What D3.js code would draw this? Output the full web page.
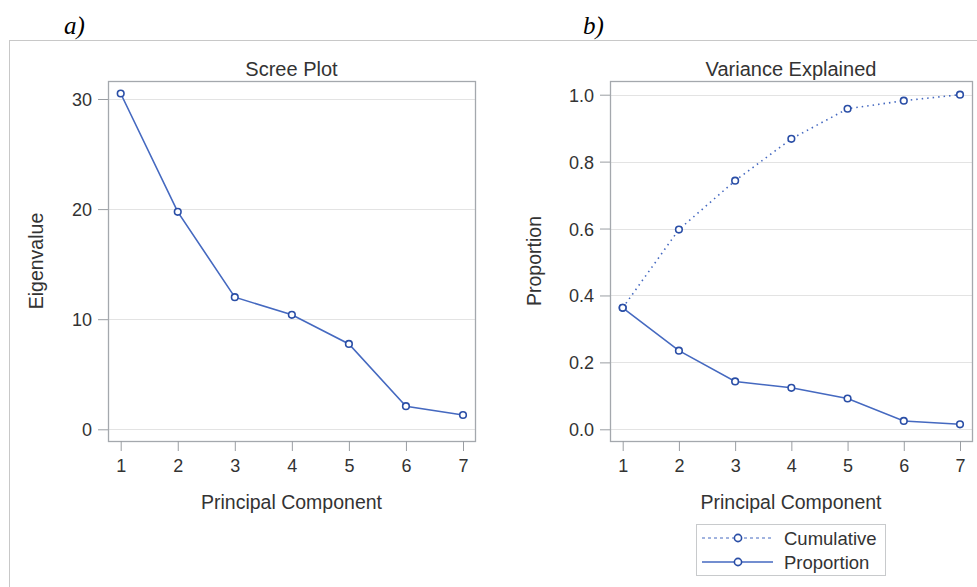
<!DOCTYPE html>
<html>
<head>
<meta charset="utf-8">
<script src="https://cdn.jsdelivr.net/npm/d3@7.9.0/dist/d3.min.js"></script>
<style>
  body { margin: 0; background: #fff; }
  svg { display: block; font-family: "Liberation Sans", Arial, sans-serif; }
  .tick text { fill: #333; font-size: 18px; font-family: "Liberation Sans", Arial, sans-serif; }
  .tick line { stroke: #9a9ea3; }
  .domain { display: none; }
</style>
</head>
<body>
<svg id="chart" width="977" height="587"></svg>
<script>
// ---- data ----
const components = [1, 2, 3, 4, 5, 6, 7];
const eigenvalues = [30.5, 19.75, 12.0, 10.4, 7.75, 2.1, 1.3];
const proportion = [0.363, 0.235, 0.143, 0.124, 0.092, 0.025, 0.015];
const cumulative = [0.363, 0.597, 0.743, 0.868, 0.958, 0.982, 1.0];
const screeTicks = [0, 10, 20, 30];
const varTicks = [0.0, 0.2, 0.4, 0.6, 0.8, 1.0];

const lineColor = '#4569c0';
const markColor = '#2a4ea6';
const frameColor = '#a4a8ad';
const gridColor = '#e3e3e3';

const svg = d3.select('#chart');

// outer container border (top + left only)
svg.append('line').attr('x1', 9).attr('x2', 977).attr('y1', 40.5).attr('y2', 40.5)
  .attr('stroke', '#c8c8c8');
svg.append('line').attr('x1', 9.5).attr('x2', 9.5).attr('y1', 40).attr('y2', 587)
  .attr('stroke', '#c8c8c8');

// panel letters
svg.append('text').attr('x', 64).attr('y', 34).text('a)')
  .style('font-family', '"Liberation Serif", "Times New Roman", serif')
  .style('font-style', 'italic').style('font-size', '25px');
svg.append('text').attr('x', 583).attr('y', 34).text('b)')
  .style('font-family', '"Liberation Serif", "Times New Roman", serif')
  .style('font-style', 'italic').style('font-size', '25px');

function panel(opt) {
  const { frame, xRange, yDomain, yRange, ticks, fmt, title, yLabel, yLabelX } = opt;
  const g = svg.append('g');

  const x = d3.scaleLinear().domain([1, 7]).range(xRange);
  const y = d3.scaleLinear().domain(yDomain).range(yRange);

  // gridlines
  g.append('g').selectAll('line').data(ticks).join('line')
    .attr('x1', frame.left).attr('x2', frame.right)
    .attr('y1', d => Math.round(y(d)) + 0.5).attr('y2', d => Math.round(y(d)) + 0.5)
    .attr('stroke', gridColor);

  // frame
  g.append('rect')
    .attr('x', frame.left + 0.5).attr('y', frame.top + 0.5)
    .attr('width', frame.right - frame.left).attr('height', frame.bottom - frame.top)
    .attr('fill', 'none').attr('stroke', frameColor).attr('stroke-width', 1.3);

  // axes
  g.append('g')
    .attr('transform', `translate(${frame.left},0)`)
    .call(d3.axisLeft(y).tickValues(ticks).tickFormat(fmt).tickSize(10).tickPadding(6))
    .selectAll('.tick text').attr('dy', '0.36em');

  g.append('g')
    .attr('transform', `translate(0,${frame.bottom})`)
    .call(d3.axisBottom(x).tickValues(components).tickFormat(d3.format('d')).tickSize(10).tickPadding(8));

  // titles
  g.append('text').attr('x', (frame.left + frame.right) / 2).attr('y', frame.top - 5)
    .attr('text-anchor', 'middle').style('font-size', '20px').style('fill', '#333').text(title);
  g.append('text').attr('x', (frame.left + frame.right) / 2).attr('y', frame.bottom + 68)
    .attr('text-anchor', 'middle').style('font-size', '19.5px').style('fill', '#333')
    .text('Principal Component');
  g.append('text')
    .attr('transform', `translate(${yLabelX},${(frame.top + frame.bottom) / 2}) rotate(-90)`)
    .attr('text-anchor', 'middle').style('font-size', '19.5px').style('fill', '#333').text(yLabel);

  return { g, x, y };
}

function series(p, values, dashed) {
  const line = d3.line().x((d, i) => p.x(components[i])).y(d => p.y(d));
  p.g.append('path').datum(values).attr('d', line)
    .attr('fill', 'none').attr('stroke', lineColor)
    .attr('stroke-width', 1.6)
    .attr('stroke-dasharray', dashed ? '1.5 4' : null);
  p.g.append('g').selectAll('circle').data(values).join('circle')
    .attr('cx', (d, i) => p.x(components[i])).attr('cy', d => p.y(d))
    .attr('r', 3.3).attr('fill', '#fff').attr('stroke', markColor).attr('stroke-width', 1.6);
}

// ---- a) scree plot ----
const pa = panel({
  frame: { left: 108, right: 475, top: 81, bottom: 441 },
  xRange: [120.7, 463],
  yDomain: [0, 30], yRange: [429.3, 99],
  ticks: screeTicks, fmt: d3.format('d'),
  title: 'Scree Plot', yLabel: 'Eigenvalue', yLabelX: 43
});
series(pa, eigenvalues, false);

// ---- b) variance explained ----
const pb = panel({
  frame: { left: 610, right: 972, top: 81, bottom: 441 },
  xRange: [622.7, 960],
  yDomain: [0, 1], yRange: [429.3, 94.7],
  ticks: varTicks, fmt: d3.format('.1f'),
  title: 'Variance Explained', yLabel: 'Proportion', yLabelX: 541
});
series(pb, cumulative, true);
series(pb, proportion, false);

// legend
const lg = svg.append('g').attr('transform', 'translate(696,524)');
lg.append('rect').attr('x', 0.5).attr('y', 0.5).attr('width', 189).attr('height', 51)
  .attr('fill', '#fff').attr('stroke', '#c8cacc');
[
  { label: 'Cumulative', dash: '3 3', y: 14 },
  { label: 'Proportion', dash: null, y: 38 }
].forEach(d => {
  lg.append('line').attr('x1', 6).attr('x2', 77).attr('y1', d.y).attr('y2', d.y)
    .attr('stroke', lineColor).attr('stroke-width', d.dash ? 1 : 1.6)
    .attr('stroke-dasharray', d.dash);
  lg.append('circle').attr('cx', 42).attr('cy', d.y).attr('r', 3.6)
    .attr('fill', '#fff').attr('stroke', markColor).attr('stroke-width', 1.6);
  lg.append('text').attr('x', 88).attr('y', d.y).attr('dy', '0.36em')
    .style('font-size', '18.5px').style('fill', '#333').text(d.label);
});
</script>
</body>
</html>
